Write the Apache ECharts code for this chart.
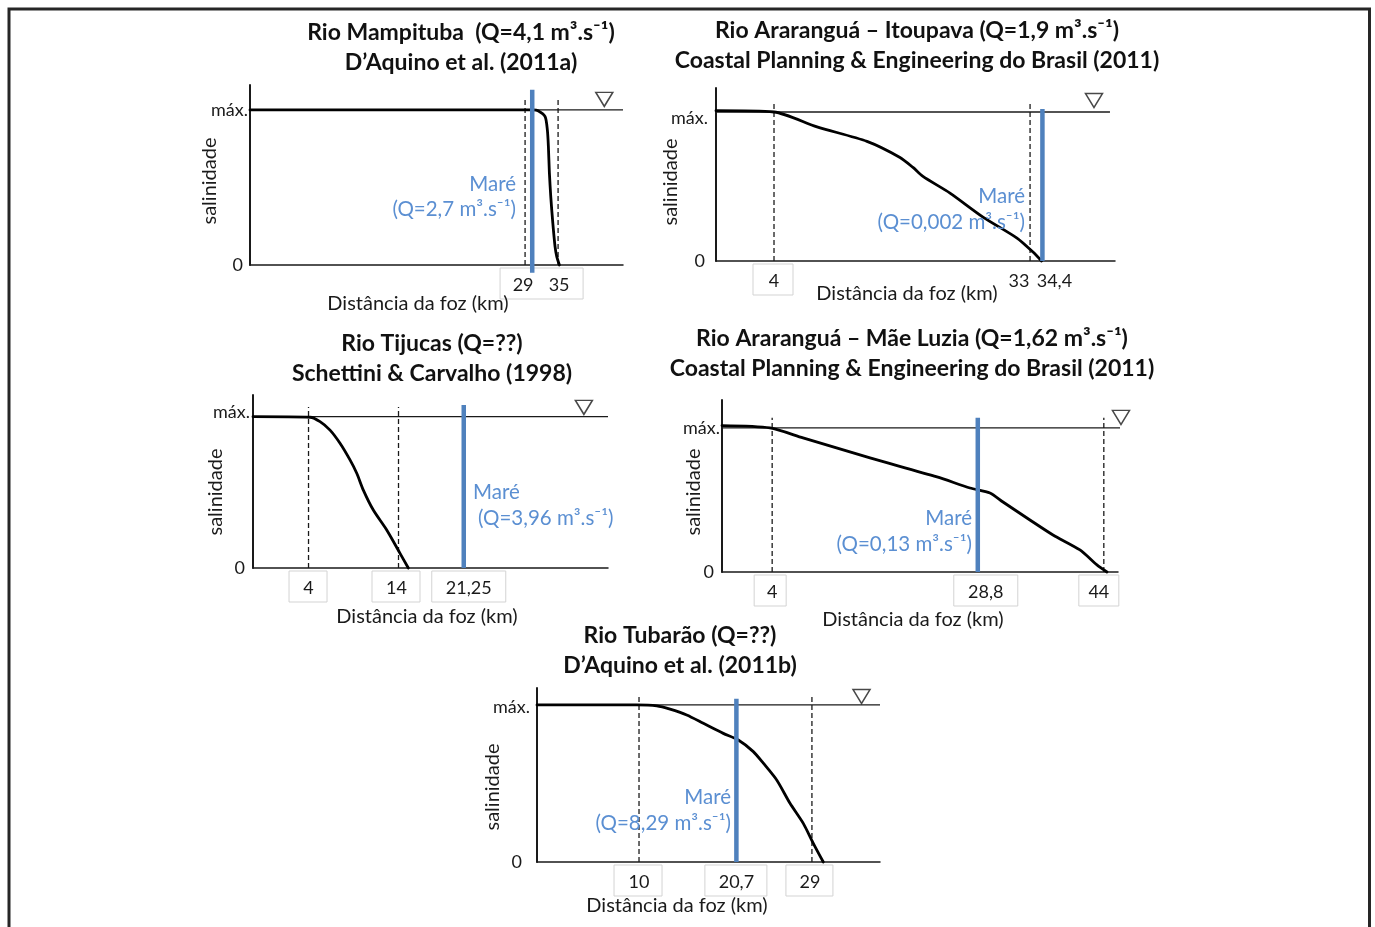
<!DOCTYPE html>
<html><head><meta charset="utf-8">
<script src="https://cdn.jsdelivr.net/npm/echarts@6/dist/echarts.min.js"></script>
<style>html,body{margin:0;padding:0;background:#fff}#c{width:1375px;height:927px}</style>
</head><body><div id="c"></div><script>
// ---------------- DATA (distance in km, salinity relative: 0 = zero, 1 = máx.) ----------------
// Panel 1 – Rio Mampituba
const P1_TITLE = ['Rio Mampituba  (Q=4,1 m³.s⁻¹)', 'D’Aquino et al. (2011a)'];
const P1_CURVE = [[-21,1],[30.45,1],[31.36,0.995],[32.64,0.957],[33.05,0.871],[33.24,0.763],[33.42,0.594],[33.67,0.441],[34.04,0.271],[34.45,0.118],[34.76,0.054],[35.24,0]];
const P1_DASHED = [29, 35];
const P1_TIDE = 30.3;
const P1_TIDE_Q = '(Q=2,7 m³.s⁻¹)';
const P1_TICKS = [29, 35];
const P1_TICK_LABELS = ['29', '35'];
const P1_SURFACE = [43.4, 1.068];

// Panel 2 – Rio Araranguá – Itoupava
const P2_TITLE = ['Rio Araranguá – Itoupava (Q=1,9 m³.s⁻¹)', 'Coastal Planning & Engineering do Brasil (2011)'];
const P2_CURVE = [[-2.57,1.009],[4,1],[8.87,0.9],[14.53,0.803],[18.27,0.695],[19.74,0.628],[20.87,0.568],[23.93,0.456],[27.67,0.295],[31.52,0.154],[33.33,0.06],[34.3,0]];
const P2_DASHED = [4, 33];
const P2_TIDE = 34.4;
const P2_TIDE_Q = '(Q=0,002 m³.s⁻¹)';
const P2_TICKS = [4, 33, 34.4];
const P2_TICK_LABELS = ['4', '33', '34,4'];
const P2_SURFACE = [40.24, 1.077];

// Panel 3 – Rio Tijucas
const P3_TITLE = ['Rio Tijucas (Q=??)', 'Schettini & Carvalho (1998)'];
const P3_CURVE = [[-2.17,1],[4.17,0.996],[5.28,0.967],[6.39,0.911],[7.5,0.824],[8.61,0.714],[9.36,0.626],[10.09,0.515],[11.2,0.383],[12.69,0.251],[14.17,0.097],[15.09,0]];
const P3_DASHED = [4, 14];
const P3_TIDE = 21.25;
const P3_TIDE_Q = '(Q=3,96 m³.s⁻¹)';
const P3_TICKS = [4, 14, 21.25];
const P3_TICK_LABELS = ['4', '14', '21,25'];
const P3_SURFACE = [34.6, 1.061];

// Panel 4 – Rio Araranguá – Mãe Luzia
const P4_TITLE = ['Rio Araranguá – Mãe Luzia (Q=1,62 m³.s⁻¹)', 'Coastal Planning & Engineering do Brasil (2011)'];
const P4_CURVE = [[-2.05,1.016],[3.74,1],[7.72,0.931],[15.8,0.792],[23.88,0.66],[27.86,0.583],[30.27,0.549],[31.84,0.486],[35.09,0.361],[37.87,0.257],[41.12,0.153],[43.17,0.049],[44.38,0]];
const P4_DASHED = [4, 44];
const P4_TIDE = 28.8;
const P4_TIDE_Q = '(Q=0,13 m³.s⁻¹)';
const P4_TICKS = [4, 28.8, 44];
const P4_TICK_LABELS = ['4', '28,8', '44'];
const P4_SURFACE = [46.07, 1.073];

// Panel 5 – Rio Tubarão
const P5_TITLE = ['Rio Tubarão (Q=??)', 'D’Aquino et al. (2011b)'];
const P5_CURVE = [[-1.21,1],[9.75,1],[11.95,0.994],[13.41,0.973],[15.24,0.936],[17.07,0.883],[19.26,0.819],[20.91,0.777],[22.56,0.703],[23.66,0.629],[25.13,0.522],[26.59,0.374],[28.05,0.246],[29.15,0.119],[30.25,0]];
const P5_DASHED = [10, 29];
const P5_TIDE = 20.7;
const P5_TIDE_Q = '(Q=8,29 m³.s⁻¹)';
const P5_TICKS = [10, 20.7, 29];
const P5_TICK_LABELS = ['10', '20,7', '29'];
const P5_SURFACE = [34.45, 1.054];

const Y_LABELS = ['0', 'máx.'];
const X_NAME = 'Distância da foz (km)';
const Y_NAME = 'salinidade';
const TIDE_NAME = 'Maré';

// ---------------- LAYOUT / STYLE ----------------
const FONT = 'Lato, "Open Sans", "DejaVu Sans", sans-serif';
const BLUE_LINE = '#4f81bd', BLUE_TEXT = '#5b8fd2', INK = '#1a1a1a';
const TICK_FS = 18, NAME_FS = 20, MARE_FS = 20.5, TITLE_FS = 23;

const panels = [
 {title:P1_TITLE, curve:P1_CURVE, dashed:P1_DASHED, tide:P1_TIDE, q:P1_TIDE_Q, ticks:P1_TICKS, tickLabels:P1_TICK_LABELS, surface:P1_SURFACE,
  L:{grid:{left:250,top:85,width:373,height:180}, xmin:-21, xmax:46.8, ymax:1.161, maxEnd:46.8, tideLo:-0.05, tideHi:1.13, dashHi:1.065,
     titleXY:[461,33], xname:[418,304], yname:[210,181], mare:[516,184,'right'], qxy:[516,209,'right'],
     tickDx:[-2,1], labelAxes:[[0,1]], boxes:[[0,1,23,24]], maxM:2, maxDy:0, zeroM:7}},
 {title:P2_TITLE, curve:P2_CURVE, dashed:P2_DASHED, tide:P2_TIDE, q:P2_TIDE_Q, ticks:P2_TICKS, tickLabels:P2_TICK_LABELS, surface:P2_SURFACE,
  L:{grid:{left:716,top:88,width:399,height:173}, xmin:-2.57, xmax:42.62, ymax:1.161, maxEnd:42.05, tideLo:0, tideHi:1.02, dashHi:1.07,
     titleXY:[917,31], xname:[907,294], yname:[671,182], mare:[1025,196,'right'], qxy:[1025,222,'right'],
     tickDx:[0,-11,12], labelAxes:[[0,2],[1]], boxes:[[0,0,21,19]], maxM:8, maxDy:6, zeroM:11}},
 {title:P3_TITLE, curve:P3_CURVE, dashed:P3_DASHED, tide:P3_TIDE, q:P3_TIDE_Q, ticks:P3_TICKS, tickLabels:P3_TICK_LABELS, surface:P3_SURFACE,
  L:{grid:{left:253,top:395,width:355,height:173}, xmin:-2.17, xmax:37.28, ymax:1.143, maxEnd:37.28, tideLo:0, tideHi:1.077, dashHi:1.064,
     titleXY:[432,344], xname:[427,617], yname:[216,492], mare:[473,492,'left'], qxy:[478,518,'left'],
     tickDx:[0,-2,5], labelAxes:[[0,1,2]], boxes:[[0,0,19.5,18.5],[1,1,24.5,23.5],[2,2,37,37]], maxM:3, maxDy:-4, zeroM:8}},
 {title:P4_TITLE, curve:P4_CURVE, dashed:P4_DASHED, tide:P4_TIDE, q:P4_TIDE_Q, ticks:P4_TICKS, tickLabels:P4_TICK_LABELS, surface:P4_SURFACE,
  L:{grid:{left:722,top:400,width:396,height:172}, xmin:-2.05, xmax:45.71, ymax:1.194, maxEnd:47.15, tideLo:0, tideHi:1.07, dashHi:1.07,
     titleXY:[912,339], xname:[913,620], yname:[694,492], mare:[972,518,'right'], qxy:[972,544,'right'],
     tickDx:[0,8,-5], labelAxes:[[0,1,2]], boxes:[[0,0,18,14],[1,1,32,32],[2,2,20,20]], maxM:2, maxDy:0, zeroM:8}},
 {title:P5_TITLE, curve:P5_CURVE, dashed:P5_DASHED, tide:P5_TIDE, q:P5_TIDE_Q, ticks:P5_TICKS, tickLabels:P5_TICK_LABELS, surface:P5_SURFACE,
  L:{grid:{left:537,top:688,width:343,height:174}, xmin:-1.21, xmax:36.48, ymax:1.108, maxEnd:36.48, tideLo:0, tideHi:1.04, dashHi:1.064,
     titleXY:[680,636], xname:[677,906], yname:[493,787], mare:[731,797,'right'], qxy:[731,823,'right'],
     tickDx:[0,0,-2], labelAxes:[[0,1,2]], boxes:[[0,0,25,23],[1,1,31.5,30.5],[2,2,24,23]], maxM:7, maxDy:2, zeroM:15}}
];

const grids = [], xAxes = [], yAxes = [], series = [], primaryX = [];
panels.forEach((p, i) => {
  const L = p.L;
  grids.push(Object.assign({containLabel:false, outerBoundsMode:'none'}, L.grid));
  // one or more x axes per panel (extra ones only carry tick labels that would otherwise collide)
  L.labelAxes.forEach((group, gi) => {
    const vals = group.map(k => p.ticks[k]);
    const rich = {t:{fontSize:TICK_FS, color:INK, fontFamily:FONT}};
    group.forEach(k => { if (L.tickDx[k]) rich['g' + k] = {width: Math.abs(L.tickDx[k]) * 2, fontSize:TICK_FS}; });
    if (gi === 0) primaryX.push(xAxes.length);
    xAxes.push({
      type:'value', gridIndex:i, min:L.xmin, max:L.xmax, position:'bottom', offset:0,
      axisLine:{show:gi === 0, onZero:false, lineStyle:{color:INK, width:1.5}},
      axisTick:{show:false}, splitLine:{show:false},
      axisLabel:{customValues:vals, margin:11, hideOverlap:false, rich:rich,
        formatter:(v) => {
          const k = p.ticks.findIndex(t => Math.abs(t - v) < 1e-6);
          if (k < 0) return '';
          const dx = L.tickDx[k] || 0, txt = '{t|' + p.tickLabels[k] + '}';
          if (dx > 0) return '{g' + k + '|}' + txt;
          if (dx < 0) return txt + '{g' + k + '|}';
          return txt;
        }}
    });
  });
  const xi = primaryX[i];
  const yr = {
    mx:{fontSize:TICK_FS, color:INK, fontFamily:FONT, padding:[L.maxDy > 0 ? 2*L.maxDy : 0, 0, L.maxDy < 0 ? -2*L.maxDy : 0, 0]},
    z:{fontSize:TICK_FS, color:INK, fontFamily:FONT, padding:[0, L.zeroM - L.maxM, 0, 0]}
  };
  yAxes.push({
    type:'value', gridIndex:i, min:0, max:L.ymax,
    axisLine:{show:true, onZero:false, lineStyle:{color:INK, width:2}},
    axisTick:{show:false}, splitLine:{show:false},
    axisLabel:{customValues:[0,1], margin:L.maxM, hideOverlap:false, rich:yr,
      formatter:(v) => v > 0.5 ? '{mx|' + Y_LABELS[1] + '}' : '{z|' + Y_LABELS[0] + '}'}
  });
  series.push({type:'line', xAxisIndex:xi, yAxisIndex:i, data:[[L.xmin,1],[L.maxEnd,1]], symbol:'none', clip:false, silent:true,
    lineStyle:{color:INK, width:1.3}, z:2});
  p.dashed.forEach(d => series.push({type:'line', xAxisIndex:xi, yAxisIndex:i, data:[[d,0],[d,L.dashHi]], symbol:'none', clip:false, silent:true,
    lineStyle:{color:INK, width:1.3, type:[5,3]}, z:3}));
  series.push({type:'line', xAxisIndex:xi, yAxisIndex:i, data:p.curve, symbol:'none', smooth:0.25, clip:false, silent:true,
    lineStyle:{color:'#000', width:2.8, cap:'round', join:'round'}, z:4});
  series.push({type:'line', xAxisIndex:xi, yAxisIndex:i, data:[[p.tide,L.tideLo],[p.tide,L.tideHi]], symbol:'none', clip:false, silent:true,
    lineStyle:{color:BLUE_LINE, width:4.5}, z:5});
  series.push({type:'scatter', xAxisIndex:xi, yAxisIndex:i, data:[p.surface], symbol:'triangle', symbolRotate:180, symbolSize:[17,14], clip:false, silent:true,
    itemStyle:{color:'#fff', borderColor:INK, borderWidth:1.5}, z:6});
});

const chart = echarts.init(document.getElementById('c'), null, {renderer:'canvas'});
chart.setOption({animation:false, backgroundColor:'#fff', grid:grids, xAxis:xAxes, yAxis:yAxes, series:series});

const g = [];
g.push({type:'rect', shape:{x:9, y:9, width:1360.5, height:1000}, style:{fill:null, stroke:'#262626', lineWidth:3}, silent:true, z:100});
panels.forEach((p, i) => {
  const L = p.L;
  const txt = (s, x, y, o) => g.push({type:'text', silent:true, z:50,
    style:Object.assign({text:s, x:x, y:y, fill:INK, font:NAME_FS + 'px ' + FONT, textAlign:'center', textVerticalAlign:'middle'}, o || {})});
  txt(p.title[0], L.titleXY[0], L.titleXY[1], {font:'bold ' + TITLE_FS + 'px ' + FONT, fill:'#111'});
  txt(p.title[1], L.titleXY[0], L.titleXY[1] + 30, {font:'bold ' + TITLE_FS + 'px ' + FONT, fill:'#111'});
  txt(X_NAME, L.xname[0], L.xname[1]);
  g.push({type:'text', silent:true, z:50, x:L.yname[0], y:L.yname[1], rotation:Math.PI/2,
    style:{text:Y_NAME, x:0, y:0, fill:INK, font:NAME_FS + 'px ' + FONT, textAlign:'center', textVerticalAlign:'middle'}});
  txt(TIDE_NAME, L.mare[0], L.mare[1], {fill:BLUE_TEXT, font:MARE_FS + 'px ' + FONT, textAlign:L.mare[2]});
  txt(p.q, L.qxy[0], L.qxy[1], {fill:BLUE_TEXT, font:MARE_FS + 'px ' + FONT, textAlign:L.qxy[2]});
  const xi = primaryX[i];
  const zeroY = chart.convertToPixel({gridIndex:i}, [0, 0])[1];
  L.boxes.forEach(([a, b, pl, pr]) => {
    const xa = chart.convertToPixel({xAxisIndex:xi}, p.ticks[a]) + (L.tickDx[a] || 0);
    const xb = chart.convertToPixel({xAxisIndex:xi}, p.ticks[b]) + (L.tickDx[b] || 0);
    g.push({type:'rect', silent:true, z:1, shape:{x:xa - pl, y:zeroY + 3, width:(xb + pr) - (xa - pl), height:31},
      style:{fill:null, stroke:'#d3d3d3', lineWidth:1}});
  });
});
chart.setOption({graphic:g});
</script></body></html>
